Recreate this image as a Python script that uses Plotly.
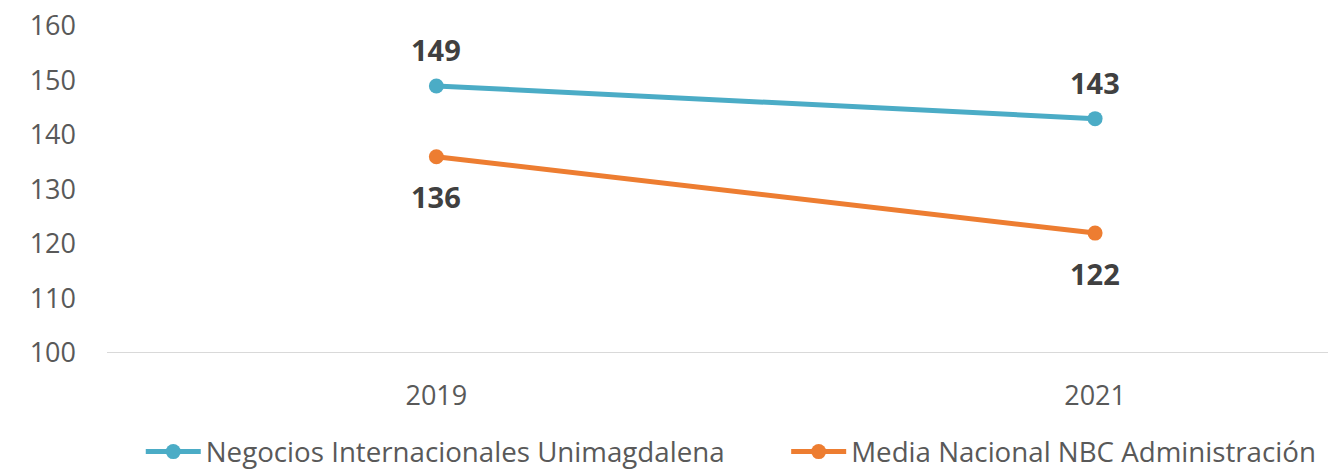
import plotly.graph_objects as go

years = ["2019", "2021"]
unimagdalena = [149, 143]
nbc_nacional = [136, 122]
series_names = ["Negocios Internacionales Unimagdalena", "Media Nacional NBC Administración"]
y_ticks = [100, 110, 120, 130, 140, 150, 160]

teal = "#4BACC6"
orange = "#ED7D31"
font_family = "Open Sans, Noto Sans, sans-serif"

xpos = list(range(len(years)))

fig = go.Figure()
fig.add_trace(go.Scatter(
    x=xpos, y=unimagdalena, name=series_names[0], mode="lines+markers",
    line=dict(color=teal, width=5), marker=dict(color=teal, size=15),
    legend="legend",
))
fig.add_trace(go.Scatter(
    x=xpos, y=nbc_nacional, name=series_names[1], mode="lines+markers",
    line=dict(color=orange, width=5), marker=dict(color=orange, size=15),
    legend="legend2",
))

# value labels: upper series above its points, lower series below
label_font = dict(size=29, color="#404040", family=font_family)
for xi, v in zip(xpos, unimagdalena):
    fig.add_annotation(x=xi, y=v, text=f"<b>{v}</b>", showarrow=False,
                       yshift=36, font=label_font)
for xi, v in zip(xpos, nbc_nacional):
    fig.add_annotation(x=xi, y=v, text=f"<b>{v}</b>", showarrow=False,
                       yshift=-40, font=label_font)

legend_style = dict(orientation="h", xref="container", yref="container",
                    xanchor="left", y=0.036, yanchor="middle",
                    font=dict(size=27.7, color="#595959"), itemwidth=55,
                    bgcolor="rgba(0,0,0,0)")

fig.update_layout(
    width=1328, height=469,
    margin=dict(l=107, r=0, t=26, b=116),
    paper_bgcolor="white", plot_bgcolor="white",
    font=dict(family=font_family, color="#595959", size=27),
    showlegend=True,
    legend=dict(x=0.106, **legend_style),
    legend2=dict(x=0.592, **legend_style),
    xaxis=dict(
        range=[-0.5, 1.3536], tickvals=xpos, ticktext=years,
        showgrid=False, zeroline=False, showline=False, ticks="",
        tickfont=dict(size=27, color="#595959"), automargin=False,
        ticklabelstandoff=24,
    ),
    yaxis=dict(
        range=[100, 160], tickvals=y_ticks, showgrid=False, zeroline=False,
        showline=False, ticks="", tickfont=dict(size=27, color="#595959"),
        ticklabelstandoff=30, automargin=False,
    ),
    shapes=[dict(type="line", xref="paper", yref="y", x0=0, x1=1, y0=100, y1=100,
                 line=dict(color="#D9D9D9", width=2))],
)

fig.write_html("out.html")
